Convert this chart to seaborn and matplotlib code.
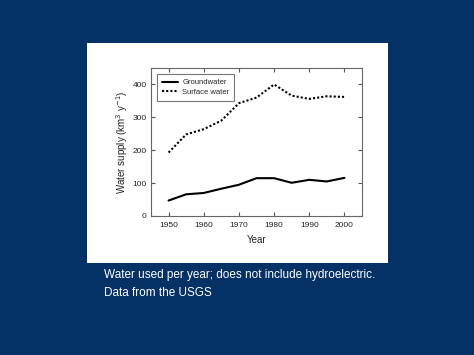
import numpy as np
import matplotlib.pyplot as plt
import pandas as pd
import seaborn as sns
from matplotlib.patches import Rectangle

years = [1950, 1955, 1960, 1965, 1970, 1975, 1980, 1985, 1990, 1995, 2000]
groundwater = [47, 66, 70, 83, 95, 115, 115, 101, 110, 105, 116]
surface_water = [193, 248, 264, 290, 343, 360, 400, 366, 356, 364, 362]
series_names = ['Groundwater', 'Surface water']
x_ticks = [1950, 1960, 1970, 1980, 1990, 2000]
y_ticks = [0, 100, 200, 300, 400]

data = pd.DataFrame({
    'Year': years * 2,
    'supply': groundwater + surface_water,
    'source': [series_names[0]] * len(years) + [series_names[1]] * len(years),
})

sns.set_style('ticks')
plt.rcParams['font.family'] = ['Liberation Sans', 'DejaVu Sans']

fig = plt.figure(figsize=(4.74, 3.55), dpi=100)
fig.patch.set_facecolor('#043166')
# white slide panel behind the chart
fig.patches.append(Rectangle((87 / 474, 1 - 263 / 355), 301 / 474, 220 / 355,
                             transform=fig.transFigure, facecolor='white',
                             edgecolor='none', zorder=-5))

ax = fig.add_axes([151 / 474, 1 - 216 / 355, 211 / 474, 148 / 355])
ax.set_zorder(1)
sns.lineplot(data=data, x='Year', y='supply', style='source',
             dashes={'Groundwater': '', 'Surface water': (1, 1)},
             color='black', lw=1.5, ax=ax)

ax.set_xlim(1945, 2005)
ax.set_ylim(0, 450)
ax.set_xticks(x_ticks)
ax.set_yticks(y_ticks)
ax.tick_params(direction='in', length=3, width=0.8, color='#555555',
               labelsize=6, labelcolor='#222222', top=True, right=True)
ax.tick_params(axis='x', labeltop=False, pad=4)
ax.tick_params(axis='y', labelright=False, pad=3)
for s in ax.spines.values():
    s.set_color('#666666')
    s.set_linewidth(0.8)

ax.set_xlabel('Year', fontsize=7, labelpad=4.5, color='#222222')
ax.set_ylabel('Water supply (km$^3$ y$^{-1}$)', fontsize=7, labelpad=1.5,
              color='#222222')

leg = ax.legend(loc='upper left', bbox_to_anchor=(0.03, 0.96), borderaxespad=0,
                fontsize=5.5, frameon=True, fancybox=False,
                edgecolor='#555555', handlelength=2.1, borderpad=0.65,
                labelspacing=0.3, handletextpad=0.5)
leg.get_frame().set_linewidth(0.8)

fig.text(104 / 474, 1 - 275 / 355, 'Water used per year; does not include hydroelectric.',
         color='white', fontsize=8.5, va='center', ha='left')
fig.text(104 / 474, 1 - 293 / 355, 'Data from the USGS',
         color='white', fontsize=8.5, va='center', ha='left')

fig.savefig('out.png', dpi=100, facecolor=fig.get_facecolor())
